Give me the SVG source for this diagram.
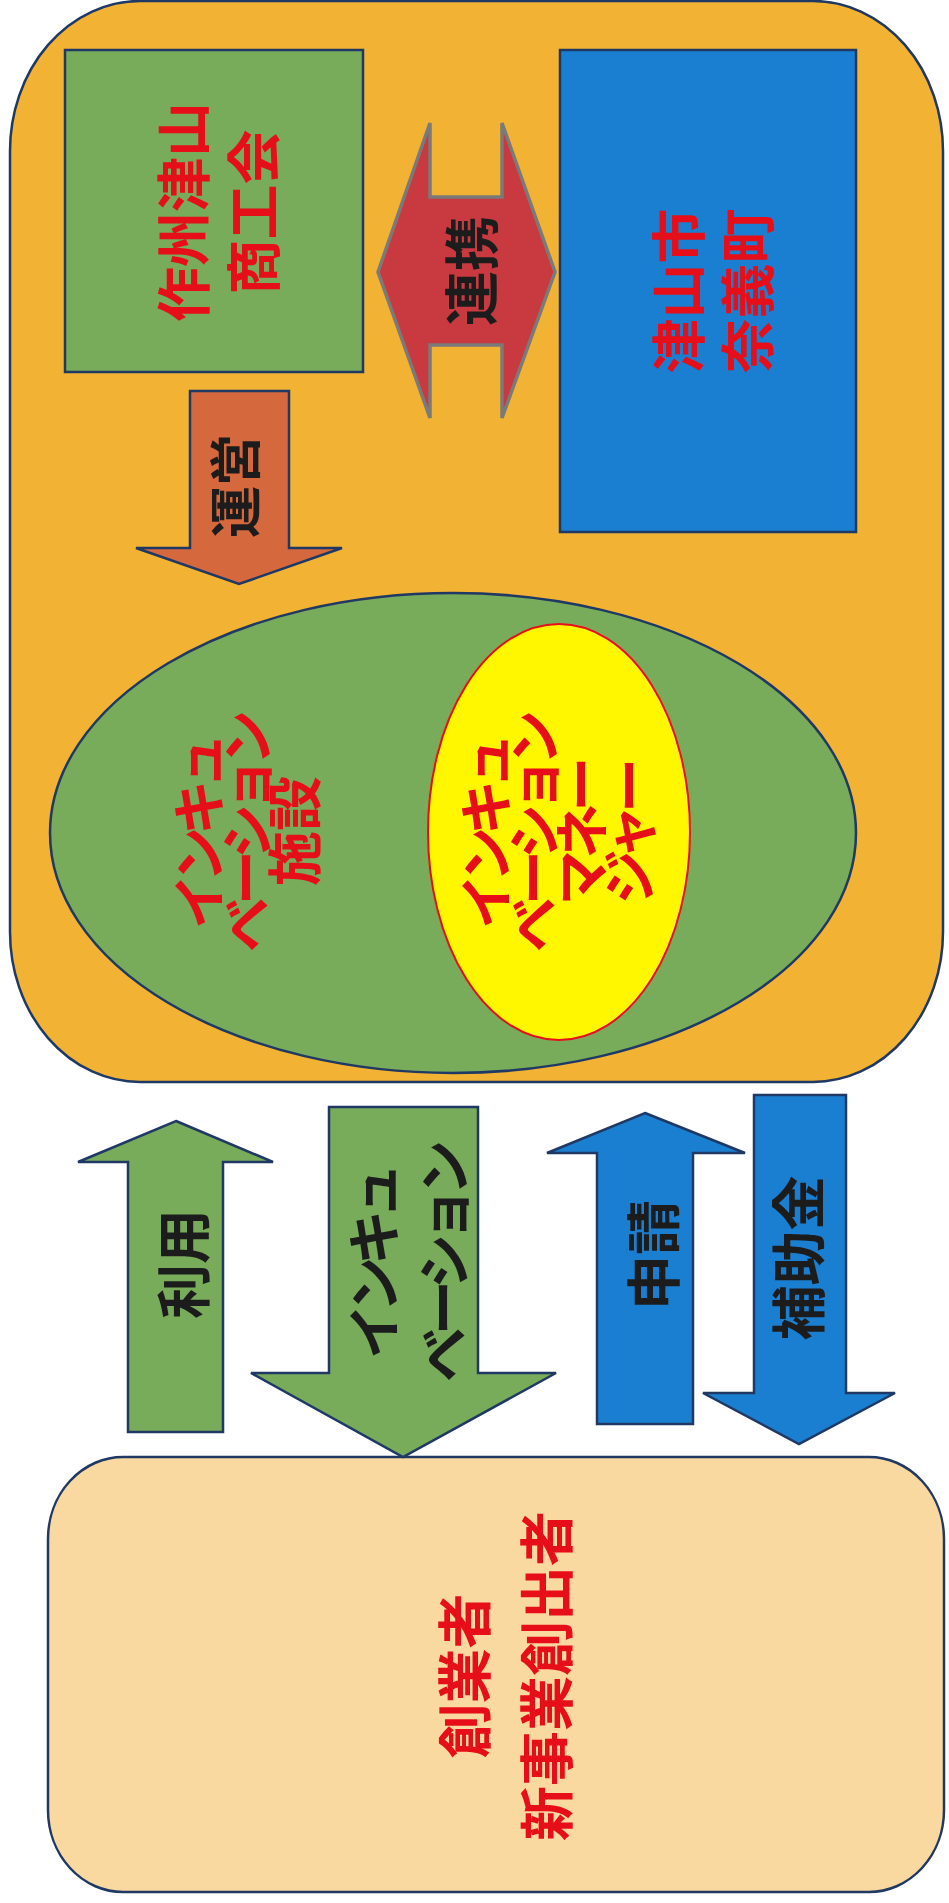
<svg xmlns="http://www.w3.org/2000/svg" width="949" height="1903" viewBox="0 0 949 1903">
<style>
.ln{stroke:#1f3864;stroke-width:2.5;stroke-linejoin:miter}
.t{font-family:"Noto Sans CJK JP","Noto Sans CJK SC",sans-serif;font-weight:bold;font-size:55px;text-anchor:middle;dominant-baseline:central}
.red{fill:#e60f19}
.dark{fill:#1c1c1c}
.kana{letter-spacing:-8px}
</style>
<rect x="0" y="0" width="949" height="1903" fill="#ffffff"/>
<g id="outer">
<rect x="10" y="1" width="933" height="1081" rx="130" ry="150" fill="#f2b233" class="ln"/>
</g>
<g id="shokokai">
<rect x="65" y="50" width="298" height="322" fill="#78ab5a" class="ln"/>
<g transform="translate(215,212) rotate(-90)">
<text class="t red" x="0" y="-35">作州津山</text>
<text class="t red" x="0" y="35">商工会</text>
</g>
</g>
<g id="municipality">
<rect x="560" y="50" width="296" height="482" fill="#1b7fd1" class="ln"/>
<g transform="translate(709,291) rotate(-90)">
<text class="t red" x="0" y="-34">津山市</text>
<text class="t red" x="0" y="35">奈義町</text>
</g>
</g>
<g id="facility">
<ellipse cx="453" cy="833" rx="403" ry="240" fill="#78ab5a" class="ln"/>
<g transform="translate(243,831) rotate(-90)">
<text class="t red kana" x="-4" y="-48">インキュ</text>
<text class="t red kana" x="-4" y="0">ベーション</text>
<text class="t red" x="0" y="48">施設</text>
</g>
</g>
<g id="manager">
<ellipse cx="559" cy="832" rx="131" ry="208" fill="#fff700" stroke="#e60f19" stroke-width="2"/>
<g transform="translate(554,831) rotate(-90)">
<text class="t red kana" x="-4" y="-72">インキュ</text>
<text class="t red kana" x="-4" y="-24">ベーション</text>
<text class="t red kana" x="-4" y="24">マネー</text>
<text class="t red kana" x="-4" y="72">ジャー</text>
</g>
</g>
<g id="founders">
<rect x="48" y="1457" width="896" height="435" rx="75" ry="82" fill="#fad9a0" class="ln"/>
<g transform="translate(502,1676) rotate(-90)">
<text class="t red" x="0" y="-41">創業者</text>
<text class="t red" x="0" y="41">新事業創出者</text>
</g>
</g>
<g id="connectors">
<g id="renkei">
<polygon points="378,272 430,123 430,197 502,197 502,123 555,272 502,418 502,345 430,345 430,418" fill="#c83a40" stroke="#7a7a7a" stroke-width="3.5" stroke-linejoin="miter"/>
<text class="t dark" transform="translate(468,271) rotate(-90)">連携</text>
</g>
<g id="unei">
<polygon points="190,391 289,391 289,548 342,548 239,584 136,548 190,548" fill="#d5693d" class="ln"/>
<text class="t dark" style="font-size:52px" transform="translate(232,486) rotate(-90)">運営</text>
</g>
<g id="riyo">
<polygon points="176,1121 273,1162 223,1162 223,1432 128,1432 128,1162 78,1162" fill="#78ab5a" class="ln"/>
<text class="t dark" transform="translate(180,1264) rotate(-90)">利用</text>
</g>
<g id="incubation">
<polygon points="329,1107 478,1107 478,1373 556,1373 403,1457 251,1373 329,1373" fill="#78ab5a" class="ln"/>
<g transform="translate(405,1261) rotate(-90)">
<text class="t dark kana" x="-4" y="-35">インキュ</text>
<text class="t dark kana" x="-4" y="35">ベーション</text>
</g>
</g>
<g id="shinsei">
<polygon points="645,1113 745,1153 693,1153 693,1424 597,1424 597,1153 547,1153" fill="#1b7fd1" class="ln"/>
<text class="t dark" transform="translate(650,1255) rotate(-90)">申請</text>
</g>
<g id="hojokin">
<polygon points="754,1095 846,1095 846,1393 895,1393 799,1444 703,1393 754,1393" fill="#1b7fd1" class="ln"/>
<text class="t dark" transform="translate(795,1258) rotate(-90)">補助金</text>
</g>
</g>
</svg>
